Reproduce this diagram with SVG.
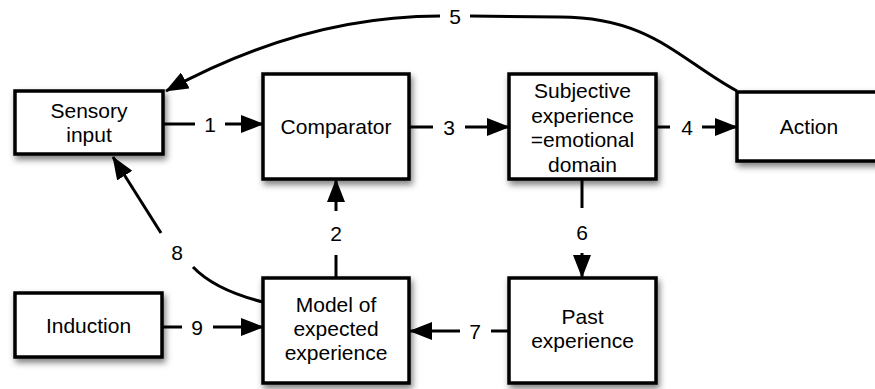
<svg xmlns="http://www.w3.org/2000/svg" width="875" height="389" viewBox="0 0 875 389">
<style>
.box{fill:#fff;stroke:#000;stroke-width:3.5;filter:url(#sh)}
.t{font-family:"Liberation Sans",Arial,sans-serif;font-size:21px;fill:#000;text-anchor:middle}
.c{fill:none;stroke:#000;stroke-width:3}
.a{marker-end:url(#ah)}
</style>
<defs>
<filter id="sh" x="-20%" y="-20%" width="140%" height="150%">
<feDropShadow dx="2" dy="4" stdDeviation="3" flood-color="#000" flood-opacity="0.5"/>
</filter>
<marker id="ah" markerUnits="userSpaceOnUse" markerWidth="24" markerHeight="18" refX="22" refY="9" orient="auto">
<path d="M0,0 L23,9 L0,18 Z" fill="#000"/>
</marker>
</defs>
<rect width="875" height="389" fill="#fff"/>

<g id="connectors">
<line class="c" x1="163" y1="124" x2="195" y2="124"/>
<line class="c a" x1="225" y1="124" x2="263" y2="124"/>
<text class="t" x="210" y="132">1</text>

<line class="c" x1="409" y1="127" x2="433" y2="127"/>
<line class="c a" x1="465" y1="127" x2="509" y2="127"/>
<text class="t" x="449" y="135">3</text>

<line class="c" x1="656" y1="127" x2="670" y2="127"/>
<line class="c a" x1="702" y1="127" x2="737" y2="127"/>
<text class="t" x="687" y="135">4</text>

<line class="c" x1="336" y1="278" x2="336" y2="255"/>
<line class="c a" x1="336" y1="211" x2="336" y2="180"/>
<text class="t" x="336" y="241">2</text>

<line class="c" x1="582" y1="179" x2="582" y2="208"/>
<line class="c a" x1="582" y1="253" x2="582" y2="277"/>
<text class="t" x="582" y="240">6</text>

<line class="c" x1="509" y1="331" x2="491" y2="331"/>
<line class="c a" x1="460" y1="331" x2="410" y2="331"/>
<text class="t" x="475" y="339">7</text>

<line class="c" x1="162" y1="327" x2="182" y2="327"/>
<line class="c a" x1="213" y1="327" x2="263" y2="327"/>
<text class="t" x="197" y="335">9</text>

<path class="c" d="M263,302 Q215,290 193,267"/>
<path class="c a" d="M161,233 L113,157"/>
<text class="t" x="177" y="260">8</text>

<path class="c" d="M737,91 C680,60 650,17 560,17 L470,16"/>
<path class="c a" d="M440,16 C340,16 250,45 166,91"/>
<text class="t" x="455" y="24">5</text>
</g>

<g id="sensory">
<rect class="box" x="15" y="91" width="148" height="63"/>
<text class="t" x="89" y="118">Sensory</text>
<text class="t" x="89" y="142">input</text>
</g>
<g id="comparator">
<rect class="box" x="263" y="74" width="146" height="105"/>
<text class="t" x="336" y="134">Comparator</text>
</g>
<g id="subjective">
<rect class="box" x="509" y="74" width="147" height="105"/>
<text class="t" x="582.5" y="98">Subjective</text>
<text class="t" x="582.5" y="122.5">experience</text>
<text class="t" x="582.5" y="147">=emotional</text>
<text class="t" x="582.5" y="171.5">domain</text>
</g>
<g id="action">
<rect class="box" x="737" y="92" width="150" height="69"/>
<text class="t" x="809" y="134">Action</text>
</g>
<g id="induction">
<rect class="box" x="15" y="293" width="147" height="64"/>
<text class="t" x="88.5" y="333">Induction</text>
</g>
<g id="model">
<rect class="box" x="263" y="278" width="146" height="105"/>
<text class="t" x="336" y="312">Model of</text>
<text class="t" x="336" y="336">expected</text>
<text class="t" x="336" y="360">experience</text>
</g>
<g id="past">
<rect class="box" x="509" y="278" width="147" height="105"/>
<text class="t" x="582.5" y="324">Past</text>
<text class="t" x="582.5" y="348">experience</text>
</g>
</svg>
